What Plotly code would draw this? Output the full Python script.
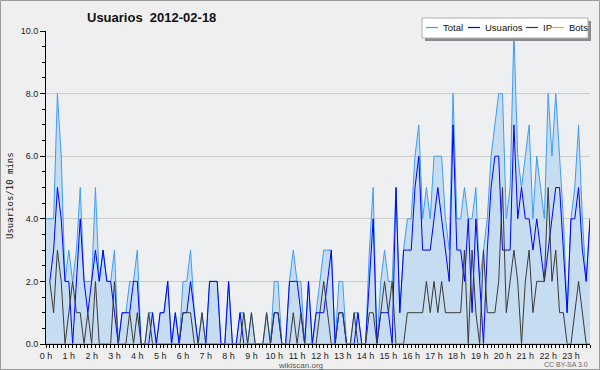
import plotly.graph_objects as go

# ---------------- data (10-minute slots, 2012-02-18) ----------------
hour_labels = [f"{h} h" for h in range(24)]
hour_slots = [0, 6, 12, 18, 24, 30, 36, 42, 48, 54, 60, 66, 72, 78, 84, 90,
              96, 102, 108, 114, 120, 126, 132, 138]
slots = list(range(144))

total = [4, 4, 4, 8, 6, 2,  3, 2, 3, 5, 2, 2,  2, 5, 2, 3, 2, 2,  3, 0, 1, 1, 2, 2,
         3, 0, 0, 1, 1, 0,  1, 1, 2, 0, 1, 0,  2, 2, 3, 1, 0, 1,  0, 2, 2, 2, 0, 0,
         2, 0, 0, 1, 1, 0,  1, 0, 0, 0, 1, 0,  2, 2, 0, 0, 2, 3,  2, 2, 0, 2, 0, 1,
         2, 3, 3, 3, 0, 2,  2, 0, 0, 1, 1, 0,  0, 3, 5, 0, 2, 3,  2, 2, 5, 1, 3, 4,
         4, 6, 7, 4, 5, 4,  6, 6, 6, 4, 3, 8,  4, 4, 5, 4, 4, 5,  2, 3, 4, 6, 7, 8,
         8, 4, 5, 10, 6, 5, 6, 7, 4, 6, 5, 4,  8, 6, 8, 6, 4, 1,  4, 5, 7, 4, 2, 4]

usuarios = [None, 2, 3, 5, 4, 2,  2, 0, 2, 4, 2, 1,  2, 3, 2, 3, 2, 2,  1, 0, 1, 1, 1, 2,
            2, 0, 0, 0, 1, 0,  1, 1, 2, 0, 1, 0,  1, 1, 2, 1, 0, 0,  0, 2, 2, 2, 0, 0,
            2, 0, 0, 1, 0, 0,  0, 0, 0, 0, 0, 0,  1, 1, 0, 0, 2, 2,  2, 1, 0, 2, 0, 1,
            1, 1, 2, 3, 0, 1,  1, 0, 0, 0, 1, 0,  0, 2, 4, 0, 1, 1,  1, 0, 5, 1, 3, 3,
            3, 5, 6, 3, 3, 3,  4, 5, 4, 3, 2, 7,  3, 3, 2, 4, 1, 4,  2, 0, 3, 5, 6, 6,
            3, 3, 3, 7, 4, 5,  4, 4, 3, 4, 3, 2,  3, 4, 5, 5, 3, 1,  4, 4, 5, 3, 2, 4]

ip = [None, 2, 1, 3, 2, 0,  1, 2, 1, 1, 0, 1,  0, 2, 0, 0, 0, 0,  2, 0, 0, 0, 1, 0,
      1, 0, 0, 1, 0, 0,  0, 0, 0, 0, 0, 0,  1, 1, 1, 0, 0, 1,  0, 0, 0, 0, 0, 0,
      0, 0, 0, 0, 1, 0,  1, 0, 0, 0, 1, 0,  1, 1, 0, 0, 0, 1,  0, 1, 0, 0, 0, 0,
      1, 2, 1, 0, 0, 1,  1, 0, 0, 1, 0, 0,  0, 1, 1, 0, 1, 2,  1, 2, 0, 0, 0, 1,
      1, 1, 1, 1, 2, 1,  2, 1, 2, 1, 1, 1,  1, 1, 3, 0, 3, 1,  0, 3, 1, 1, 1, 2,
      5, 1, 2, 3, 2, 0,  2, 3, 1, 2, 2, 2,  5, 2, 3, 1, 1, 0,  0, 1, 2, 1, 0, 0]

bots = [0, 0, 0, 0, 0, 0,  0, 0, 0, 0, 0, 0,  0, 0, 0, 0, 0, 0,  0, 0, 0, 0, 0, 0,
        0, 0, 0, 0, 0, 0,  0, 0, 0, 0, 0, 0,  0, 0, 0, 0, 0, 0,  0, 0, 0, 0, 0, 0,
        0, 0, 0, 0, 0, 0,  0, 0, 0, 0, 0, 0,  0, 0, 0, 0, 0, 0,  0, 0, 0, 0, 0, 0,
        0, 0, 0, 0, 0, 0,  0, 0, 0, 0, 0, 0,  0, 0, 0, 0, 0, 0,  0, 0, 0, 0, 0, 0,
        0, 0, 0, 0, 0, 0,  0, 0, 0, 0, 0, 0,  0, 0, 0, 0, 0, 0,  0, 0, 0, 0, 0, 0,
        0, 0, 0, 0, 0, 0,  0, 0, 0, 0, 0, 0,  0, 0, 0, 0, 0, 0,  0, 0, 0, 0, 0, 0]

y_ticks = [0, 2, 4, 6, 8, 10]
series_names = ["Total", "Usuarios", "IP", "Bots"]
series_colors = ["#3d9df3", "#0000ff", "#3a3a3a", "#ffa500"]

# ---------------- layout geometry ----------------
W, H = 600, 370
L, R, T, B = 46, 10, 31, 26
PW, PH = W - L - R, H - T - B


def px(x):
    return (x - L) / PW


def py(y):
    return (H - B - y) / PH


fig = go.Figure()
fig.add_trace(go.Scatter(x=slots, y=total, mode="lines", name=series_names[0],
                         line=dict(color=series_colors[0], width=1),
                         fill="tozeroy", fillcolor="#c6dcf0"))
fig.add_trace(go.Scatter(x=slots, y=usuarios, mode="lines", name=series_names[1],
                         line=dict(color=series_colors[1], width=1)))
fig.add_trace(go.Scatter(x=slots, y=ip, mode="lines", name=series_names[2],
                         line=dict(color=series_colors[2], width=1)))
fig.add_trace(go.Scatter(x=slots, y=bots, mode="lines", name=series_names[3],
                         line=dict(color=series_colors[3], width=1)))

shapes = []
annotations = []

# outer border
shapes.append(dict(type="rect", xref="paper", yref="paper",
                   x0=px(0.5), x1=px(W - 0.5), y0=py(H - 0.5), y1=py(0.5),
                   line=dict(color="#9a9a9a", width=1), fillcolor="rgba(0,0,0,0)",
                   layer="above"))

# legend box (with shadow)
lx0, lx1, ly0, ly1 = 422, 588, 18, 38
shapes.append(dict(type="rect", xref="paper", yref="paper",
                   x0=px(lx0 + 3), x1=px(lx1 + 3), y0=py(ly1 + 3), y1=py(ly0 + 3),
                   line=dict(width=0), fillcolor="#8a8a8a", layer="above"))
shapes.append(dict(type="rect", xref="paper", yref="paper",
                   x0=px(lx0), x1=px(lx1), y0=py(ly1), y1=py(ly0),
                   line=dict(color="#b0b0b0", width=1), fillcolor="#ffffff", layer="above"))
item_x = [426, 468, 526, 552]
ly = 27.5
for name, col, x0 in zip(series_names, series_colors, item_x):
    shapes.append(dict(type="line", xref="paper", yref="paper",
                       x0=px(x0), x1=px(x0 + 12), y0=py(ly), y1=py(ly),
                       line=dict(color=col, width=1.2), layer="above"))
    annotations.append(dict(text=name, xref="paper", yref="paper",
                            x=px(x0 + 15), y=py(ly), xanchor="left", yanchor="middle",
                            showarrow=False,
                            font=dict(family="Liberation Sans", size=9.5, color="#111")))

# title
annotations.append(dict(text="<b>Usuarios  2012-02-18</b>", xref="paper", yref="paper",
                        x=px(85), y=py(17), xanchor="left", yanchor="middle",
                        showarrow=False,
                        font=dict(family="Liberation Sans", size=13, color="#111")))
# y axis title
annotations.append(dict(text="Usuarios/10 mins", xref="paper", yref="paper",
                        x=px(10), y=py(196), xanchor="center", yanchor="middle",
                        textangle=-90, showarrow=False,
                        font=dict(family="DejaVu Sans Mono", size=9, color="#111")))
# footer
annotations.append(dict(text="wikiscan.org", xref="paper", yref="paper",
                        x=px(300), y=py(365), xanchor="center", yanchor="middle",
                        showarrow=False,
                        font=dict(family="Liberation Sans", size=8, color="#555")))
annotations.append(dict(text="CC BY-SA 3.0", xref="paper", yref="paper",
                        x=px(590), y=py(364.5), xanchor="right", yanchor="middle",
                        showarrow=False,
                        font=dict(family="Liberation Sans", size=7, color="#666")))

fig.update_layout(
    width=W, height=H,
    margin=dict(l=L, r=R, t=T, b=B, pad=0),
    paper_bgcolor="#efefef",
    plot_bgcolor="#eeeff1",
    showlegend=False,
    shapes=shapes,
    annotations=annotations,
    xaxis=dict(range=[0, 143], tickmode="array", tickvals=hour_slots, ticktext=hour_labels,
               ticks="outside", ticklen=3, tickcolor="#000", showgrid=False, zeroline=False,
               showline=True, linecolor="#000", linewidth=1,
               minor=dict(tickmode="array", tickvals=slots, ticks="outside", ticklen=3,
                          tickcolor="#000", showgrid=False),
               tickfont=dict(family="Liberation Sans", size=9, color="#222"),
               fixedrange=True),
    yaxis=dict(range=[0, 10], tickmode="array", tickvals=y_ticks,
               ticktext=[f"{v:.1f}" for v in y_ticks],
               ticks="outside", ticklen=5, tickcolor="#000", showgrid=True,
               gridcolor="#cccccc", gridwidth=1, zeroline=False,
               showline=True, linecolor="#000", linewidth=1,
               minor=dict(dtick=0.5, ticks="outside", ticklen=3, tickcolor="#000",
                          showgrid=False),
               tickfont=dict(family="Liberation Sans", size=9, color="#222"),
               fixedrange=True),
)

fig.write_html("out.html", config={"displayModeBar": False},
               post_script="document.body.style.margin='0px';document.body.style.padding='0px';")
